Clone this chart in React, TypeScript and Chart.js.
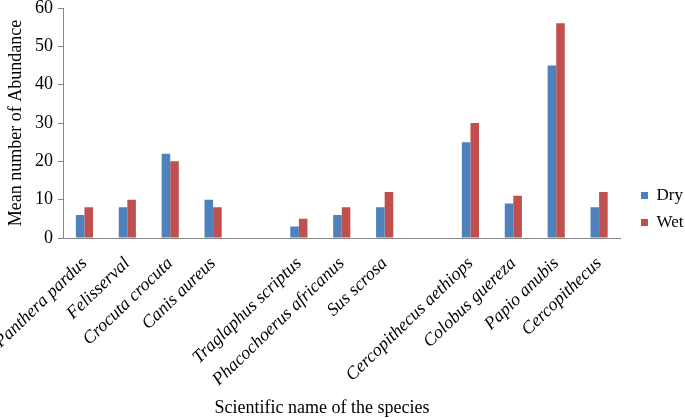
import React, { useEffect, useRef } from "react";
import { Chart, registerables } from "chart.js";

Chart.register(...registerables);

const categories = [
  "Panthera pardus",
  "Felisserval",
  "Crocuta crocuta",
  "Canis aureus",
  "",
  "Traglaphus scriptus",
  "Phacochoerus africanus",
  "Sus scrosa",
  "",
  "Cercopithecus aethiops",
  "Colobus guereza",
  "Papio anubis",
  "Cercopithecus",
];
const dryValues = [6, 8, 22, 10, null, 3, 6, 8, null, 25, 9, 45, 8];
const wetValues = [8, 10, 20, 8, null, 5, 8, 12, null, 30, 11, 56, 12];
const yTicks = [0, 10, 20, 30, 40, 50, 60];
const xTitle = "Scientific name of the species";
const yTitle = "Mean number of Abundance";

const FONT = "'Liberation Serif', 'Times New Roman', serif";
const AXIS_COLOR = "#868686";

const layoutPlugin = {
  id: "layoutTweaks",
  afterLayout(chart: any) {
    const lg = chart.legend;
    if (lg) {
      const shift = 631 - lg.left;
      lg.left += shift;
      lg.right += shift;
      lg.top -= 4;
      lg.bottom -= 4;
    }
  },
  afterDraw(chart: any) {
    const ctx = chart.ctx;
    ctx.save();
    ctx.font = `18px ${FONT}`;
    ctx.fillStyle = "#000";
    ctx.textAlign = "center";
    ctx.textBaseline = "middle";
    ctx.fillText(xTitle, chart.width * 0.47, chart.height - 10);
    ctx.restore();
  },
};

export default function App() {
  const ref = useRef<HTMLCanvasElement | null>(null);

  useEffect(() => {
    document.body.style.margin = "0";
    const canvas = ref.current;
    if (!canvas) return;
    const chart = new Chart(canvas, {
      type: "bar",
      data: {
        labels: categories,
        datasets: [
          { label: "Dry", data: dryValues, backgroundColor: "#4F81BD" },
          { label: "Wet", data: wetValues, backgroundColor: "#C0504D" },
        ],
      },
      plugins: [layoutPlugin],
      options: {
        responsive: false,
        animation: false,
        events: [],
        layout: { padding: { left: 0, top: 8, right: 2, bottom: 0 } },
        datasets: {
          bar: { categoryPercentage: 0.4, barPercentage: 1 },
        },
        plugins: {
          tooltip: { enabled: false },
          legend: {
            position: "right",
            labels: {
              font: { family: FONT, size: 17 },
              color: "#000",
              boxWidth: 7,
              boxHeight: 7,
              padding: 10,
            },
          },
        },
        scales: {
          x: {
            grid: { drawOnChartArea: false, drawTicks: false },
            border: { color: AXIS_COLOR },
            afterFit: (axis: any) => {
              axis.height = 180;
              axis.paddingLeft = 0;
              axis.paddingRight = 0;
            },
            ticks: {
              autoSkip: false,
              minRotation: 44,
              maxRotation: 44,
              padding: 15,
              color: "#000",
              font: { family: FONT, size: 18, style: "italic" },
            },
          },
          y: {
            min: 0,
            max: 60,
            afterFit: (axis: any) => {
              axis.width = 63;
              axis.paddingTop = 0;
              axis.paddingBottom = 0;
            },
            afterBuildTicks: (axis: any) => {
              axis.ticks = yTicks.map((v) => ({ value: v }));
            },
            grid: {
              drawOnChartArea: false,
              drawTicks: true,
              tickLength: 5,
              color: AXIS_COLOR,
            },
            border: { color: AXIS_COLOR },
            ticks: {
              padding: 5,
              color: "#000",
              font: { family: FONT, size: 18 },
            },
            title: {
              display: true,
              text: yTitle,
              color: "#000",
              font: { family: FONT, size: 18 },
              padding: { top: 5, bottom: 0 },
            },
          },
        },
      },
    });
    return () => chart.destroy();
  }, []);

  return <canvas ref={ref} width={685} height={418} style={{ display: "block" }} />;
}
